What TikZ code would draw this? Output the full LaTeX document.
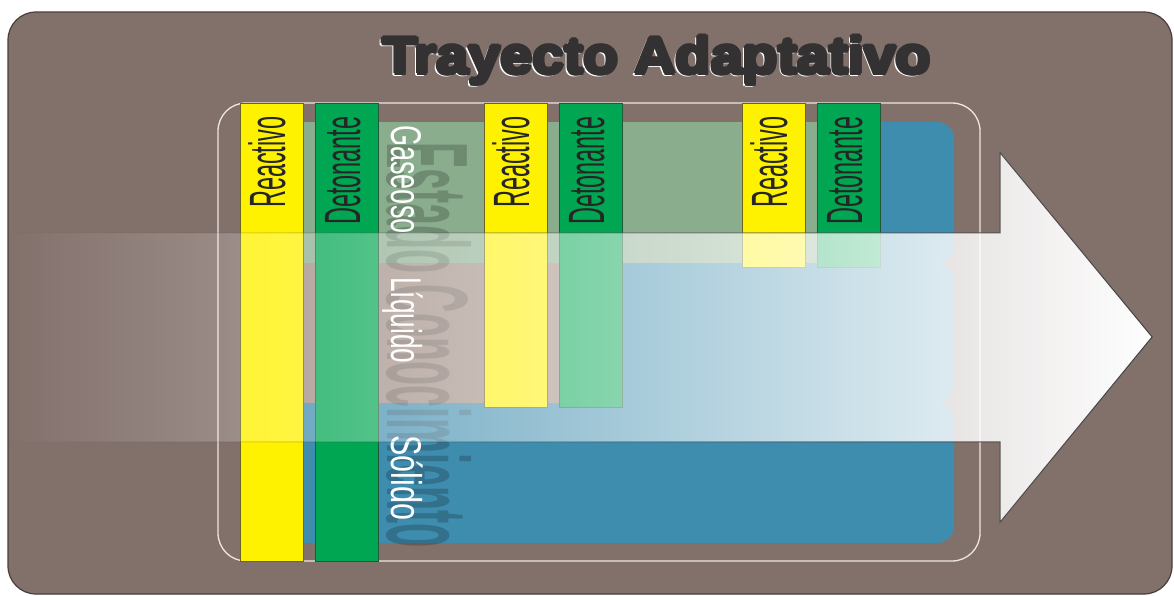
\documentclass[tikz,border=0pt]{standalone}
\usepackage{fontspec}
\setmainfont{Liberation Sans}
\usetikzlibrary{fadings}
\definecolor{bgbrown}{HTML}{82706B}
\definecolor{bgedge}{HTML}{4A3E3A}
\definecolor{ycol}{HTML}{FFF200}
\definecolor{ybord}{HTML}{6B6420}
\definecolor{gcol}{HTML}{00A651}
\definecolor{gbord}{HTML}{1E5A35}
\definecolor{bandgreen}{HTML}{8AAD8E}
\definecolor{bandtaupe}{HTML}{A08C82}
\definecolor{bandblue}{HTML}{3F8DAE}
\definecolor{titledark}{HTML}{333132}
\definecolor{outlinec}{HTML}{EDE6E2}
\tikzfading[name=arrowfade, left color=transparent!100, right color=transparent!0]
\newcommand{\colfont}{\fontsize{51}{51}\selectfont}
\newcommand{\statefont}{\fontsize{43}{43}\selectfont}
\newcommand{\ttlfont}{\bfseries\fontsize{51.7}{52}\selectfont}
\newcommand{\ttltext}{\scalebox{1.11}[1]{Trayecto Adaptativo}}
\begin{document}
\begin{tikzpicture}[x=1pt,y=-1pt,
  collabel/.style={inner sep=0pt, anchor=base west, rotate=90, text=black!85, font=\colfont},
  statelabel/.style={inner sep=0pt, anchor=base west, rotate=-90, text=white, font=\statefont},
  ttl/.style={inner sep=0pt, anchor=base west, font=\ttlfont},
  ycolumn/.style={fill=ycol, draw=ybord, line width=0.8pt},
  gcolumn/.style={fill=gcol, draw=gbord, line width=0.8pt},
  band/.style={rounded corners=17pt}]
\useasboundingbox (0,0) rectangle (1174,595);
% background
\filldraw[fill=bgbrown, draw=bgedge, line width=1.2pt, rounded corners=28pt] (8,12) rectangle (1172,594);
% title: white offset shadow, then heavy dark text
\foreach \dx/\dy [count=\k] in {0/0, 1.2/0, -1.2/0, 0/1.2, 0/-1.2}
  \node[ttl, text=white] (tsh\k) at (380.6+\dx,75.4+\dy) {\ttltext};
\foreach \dx/\dy [count=\k] in {0/0, 2/0, -2/0, 0/2, 0/-2, 1.4/1.4, 1.4/-1.4, -1.4/1.4, -1.4/-1.4}
  \node[ttl, text=titledark] (ttl\k) at (382.4+\dx,73.6+\dy) {\ttltext};
% inner outline
\draw[outlinec, line width=1.3pt, rounded corners=28pt] (218,103) rectangle (980,561);
% bands
\fill[bandblue, band] (280,122) rectangle (954,263);
\fill[bandblue, band] (280,263) rectangle (954,403);
\fill[bandblue, band] (280,403) rectangle (954,543);
\fill[bandgreen] (280,122) rectangle (880,263);
\fill[bandtaupe] (280,263) rectangle (622,403);
% watermark
\node[inner sep=0pt, anchor=base west, rotate=-90, text=black, opacity=0.2,
      font=\bfseries\fontsize{116}{116}\selectfont] (wm) at (387,142) {\scalebox{0.34}[1]{Estado Conocimiento}};
% state labels
\node[statelabel] (gas) at (391,125) {\scalebox{0.63}[1]{Gaseoso}};
\node[statelabel] (liq) at (391,277) {\scalebox{0.61}[1]{Líquido}};
\node[statelabel] (sol) at (391,435) {\scalebox{0.71}[1]{Sólido}};
% columns
\path[ycolumn] (240,103) rectangle (303,561);
\path[gcolumn] (315,103) rectangle (378,561);
\path[ycolumn] (484,103) rectangle (547,407);
\path[gcolumn] (559,103) rectangle (622,407);
\path[ycolumn] (742,103) rectangle (805,267);
\path[gcolumn] (817,103) rectangle (880,267);
\node[collabel] (r1) at (285,208) {\scalebox{0.46}[1]{Reactivo}};
\node[collabel] (d1) at (360,225) {\scalebox{0.46}[1]{Detonante}};
\node[collabel] (r2) at (529,208) {\scalebox{0.46}[1]{Reactivo}};
\node[collabel] (d2) at (604,225) {\scalebox{0.46}[1]{Detonante}};
\node[collabel] (r3) at (787,208) {\scalebox{0.46}[1]{Reactivo}};
\node[collabel] (d3) at (862,225) {\scalebox{0.46}[1]{Detonante}};
% big arrow
\path[fill=white, draw=black!75, line width=1pt, path fading=arrowfade]
  (8,233) -- (1001,233) -- (1001,153) -- (1153,337) -- (1001,522) -- (1001,442) -- (8,442) -- cycle;
\end{tikzpicture}
\end{document}
